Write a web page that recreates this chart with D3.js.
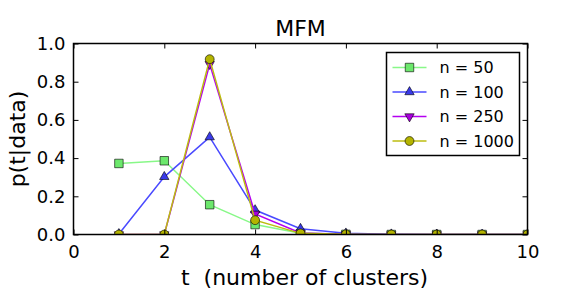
<!DOCTYPE html>
<html>
<head>
<meta charset="utf-8">
<script src="https://cdn.jsdelivr.net/npm/d3@7"></script>
<style>
  body { margin: 0; background: #fff; }
  text { font-family: "DejaVu Sans", sans-serif; fill: #000; }
</style>
</head>
<body>
<div id="chart"></div>
<script>
// data
var tValues = [1, 2, 3, 4, 5, 6, 7, 8, 9, 10];
var n50   = [0.372, 0.386, 0.156, 0.052, 0.006, 0.001, 0, 0, 0, 0];
var n100  = [0.003, 0.302, 0.510, 0.128, 0.030, 0.006, 0.001, 0, 0, 0];
var n250  = [0, 0, 0.892, 0.108, 0.008, 0.001, 0, 0, 0, 0];
var n1000 = [0, 0, 0.918, 0.075, 0.006, 0.001, 0, 0, 0, 0];
var seriesNames = ["n = 50", "n = 100", "n = 250", "n = 1000"];
var xTicks = [0, 2, 4, 6, 8, 10];
var yTicks = [0.0, 0.2, 0.4, 0.6, 0.8, 1.0];

var series = [
  { name: seriesNames[0], values: n50,   line: "#88f888", fill: "#6ce86c", marker: "square" },
  { name: seriesNames[1], values: n100,  line: "#4a4aff", fill: "#3a3ae8", marker: "triangle" },
  { name: seriesNames[2], values: n250,  line: "#b400f0", fill: "#a800dc", marker: "triangleDown" },
  { name: seriesNames[3], values: n1000, line: "#bcbc10", fill: "#b4b400", marker: "circle" }
];

var svgWidth = 586, svgHeight = 293;
var margin = { top: 43.5, right: 58.5, bottom: 58.5, left: 73.5 };
var width = svgWidth - margin.left - margin.right;
var height = svgHeight - margin.top - margin.bottom;

var svg = d3.select("#chart").append("svg")
    .attr("width", svgWidth)
    .attr("height", svgHeight);

var g = svg.append("g")
    .attr("transform", `translate(${margin.left},${margin.top})`);

var x = d3.scaleLinear().domain([0, 10]).range([0, width]);
var y = d3.scaleLinear().domain([0, 1]).range([height, 0]);

svg.append("defs").append("clipPath").attr("id", "clip")
  .append("rect").attr("width", width).attr("height", height);

var symbols = {
  square: d3.symbol().type(d3.symbolSquare).size(72),
  triangle: d3.symbol().type(d3.symbolTriangle).size(38),
  triangleDown: d3.symbol().type(d3.symbolTriangle).size(38),
  circle: d3.symbol().type(d3.symbolCircle).size(62)
};

var line = d3.line().x((d, i) => x(tValues[i])).y(d => y(d));

var plot = g.append("g").attr("clip-path", "url(#clip)");

series.forEach(function(s) {
  plot.append("path")
    .datum(s.values)
    .attr("fill", "none")
    .attr("stroke", s.line)
    .attr("stroke-width", 1.5)
    .attr("d", line);
  plot.selectAll(null)
    .data(s.values)
    .enter()
    .append("path")
    .attr("d", symbols[s.marker])
    .attr("transform", (d, i) => `translate(${x(tValues[i])},${y(d)})` + (s.marker == "triangleDown" ? " rotate(180)" : ""))
    .attr("fill", s.fill)
    .attr("stroke", "#000")
    .attr("stroke-width", 0.6);
});

// axes: ticks inside, on all four sides
var tickLen = 5;
g.append("g")
  .attr("transform", `translate(0,${height})`)
  .call(d3.axisBottom(x).tickValues(xTicks).tickSizeInner(-tickLen).tickSizeOuter(0).tickPadding(10).tickFormat(d3.format("d")))
  .call(a => a.selectAll("text").style("font-size", "18px").attr("dy", "0.75em"));
g.append("g")
  .call(d3.axisTop(x).tickValues(xTicks).tickSizeInner(-tickLen).tickSizeOuter(0).tickFormat(""));
g.append("g")
  .call(d3.axisLeft(y).tickValues(yTicks).tickSizeInner(-tickLen).tickSizeOuter(0).tickPadding(8).tickFormat(d3.format(".1f")))
  .call(a => a.selectAll("text").style("font-size", "18px"));
g.append("g")
  .attr("transform", `translate(${width},0)`)
  .call(d3.axisRight(y).tickValues(yTicks).tickSizeInner(-tickLen).tickSizeOuter(0).tickFormat(""));

g.selectAll(".domain").remove();
g.selectAll(".tick line").attr("stroke", "#000").attr("stroke-width", 1);

g.append("rect")
  .attr("width", width).attr("height", height)
  .attr("fill", "none").attr("stroke", "#000").attr("stroke-width", 1.5);

// title and labels
svg.append("text")
  .attr("x", margin.left + width / 2).attr("y", 36)
  .attr("text-anchor", "middle")
  .style("font-size", "22px")
  .text("MFM");

svg.append("text")
  .attr("x", margin.left + width / 2 + 4).attr("y", 285)
  .attr("text-anchor", "middle")
  .style("font-size", "22px")
  .attr("xml:space", "preserve")
  .text("t  (number of clusters)");

svg.append("text")
  .attr("transform", `translate(25,${margin.top + height / 2}) rotate(-90)`)
  .attr("text-anchor", "middle")
  .style("font-size", "22px")
  .text("p(t|data)");

// legend
var legend = svg.append("g").attr("transform", "translate(386.5,52.5)");
legend.append("rect")
  .attr("width", 133).attr("height", 103)
  .attr("fill", "#fff").attr("stroke", "#000").attr("stroke-width", 1.5);

series.forEach(function(s, i) {
  var row = legend.append("g").attr("transform", `translate(0,${15 + i * 24.5})`);
  row.append("line")
    .attr("x1", 6).attr("x2", 40)
    .attr("stroke", s.line).attr("stroke-width", 1.5);
  row.append("path")
    .attr("d", symbols[s.marker])
    .attr("transform", "translate(23,0)" + (s.marker == "triangleDown" ? " rotate(180)" : ""))
    .attr("fill", s.fill).attr("stroke", "#000").attr("stroke-width", 0.6);
  row.append("text")
    .attr("x", 53).attr("dy", "0.35em")
    .style("font-size", "16px")
    .text(s.name);
});
</script>
</body>
</html>
